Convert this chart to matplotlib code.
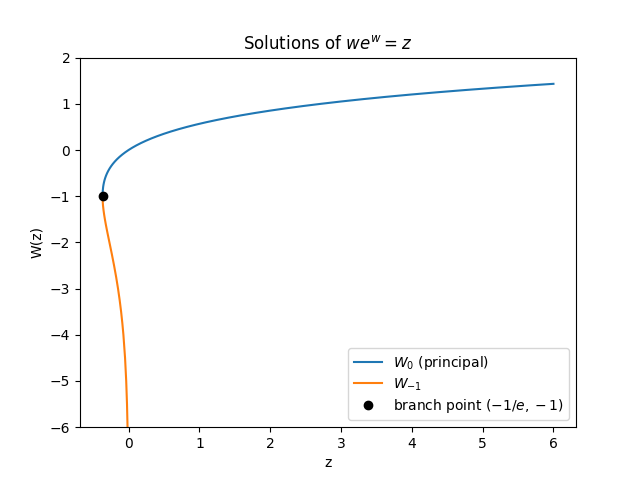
import matplotlib
matplotlib.use("Agg")
import matplotlib.pyplot as plt

# principal branch W0: (z, W) points
z0 = [-0.36788, -0.36786, -0.36780, -0.36741, -0.36591, -0.36263, -0.35946,
      -0.35427, -0.34761, -0.33946, -0.32929, -0.31732, -0.30327, -0.28693,
      -0.26813, -0.24664, -0.22225, -0.19470, -0.16375, -0.12911, -0.09048,
      -0.04756, 0.0, 0.05256, 0.11052, 0.17427, 0.24428, 0.32101, 0.40496,
      0.49667, 0.59673, 0.70574, 0.82436, 0.95329, 1.09327, 1.24510, 1.40963,
      1.58775, 1.78043, 1.98870, 2.21364, 2.45642, 2.71828, 3.00053, 3.30459,
      3.63192, 3.98414, 4.36293, 4.77009, 5.20753, 5.67728, 6.0]
w0 = [-1.0, -0.99, -0.98, -0.95, -0.9, -0.85, -0.8,
      -0.75, -0.7, -0.65, -0.6, -0.55, -0.5, -0.45,
      -0.4, -0.35, -0.3, -0.25, -0.2, -0.15, -0.1,
      -0.05, 0.0, 0.05, 0.1, 0.15, 0.2, 0.25, 0.3,
      0.35, 0.4, 0.45, 0.5, 0.55, 0.6, 0.65, 0.7,
      0.75, 0.8, 0.85, 0.9, 0.95, 1.0, 1.05, 1.1,
      1.15, 1.2, 1.25, 1.3, 1.35, 1.4, 1.4324]

# lower branch W-1
zm1 = [-0.36788, -0.36786, -0.36780, -0.36743, -0.36616, -0.36143, -0.35429,
       -0.34524, -0.33470, -0.32304, -0.31056, -0.29754, -0.28418, -0.27067,
       -0.23715, -0.20521, -0.17580, -0.14936, -0.12602, -0.10569, -0.08819,
       -0.07326, -0.04999, -0.03369, -0.02248, -0.01487, -0.00638, -0.00268]
wm1 = [-1.0, -1.01, -1.02, -1.05, -1.1, -1.2, -1.3,
       -1.4, -1.5, -1.6, -1.7, -1.8, -1.9, -2.0,
       -2.25, -2.5, -2.75, -3.0, -3.25, -3.5, -3.75,
       -4.0, -4.5, -5.0, -5.5, -6.0, -7.0, -8.0]

branch_z = [-0.36788]
branch_w = [-1.0]

fig, ax = plt.subplots(figsize=(6.4, 4.8), dpi=100)
ax.plot(z0, w0, label='$W_0$ (principal)')
ax.plot(zm1, wm1, label='$W_{-1}$')
ax.plot(branch_z, branch_w, 'o', color='black', zorder=5, label='branch point $(-1/e, -1)$')
ax.set_ylim(-6, 2)
ax.set_xlabel('z')
ax.set_ylabel('W(z)')
ax.set_title('Solutions of $we^w = z$')
ax.legend(loc='lower right', labelspacing=0.3)
fig.savefig('out.png')
